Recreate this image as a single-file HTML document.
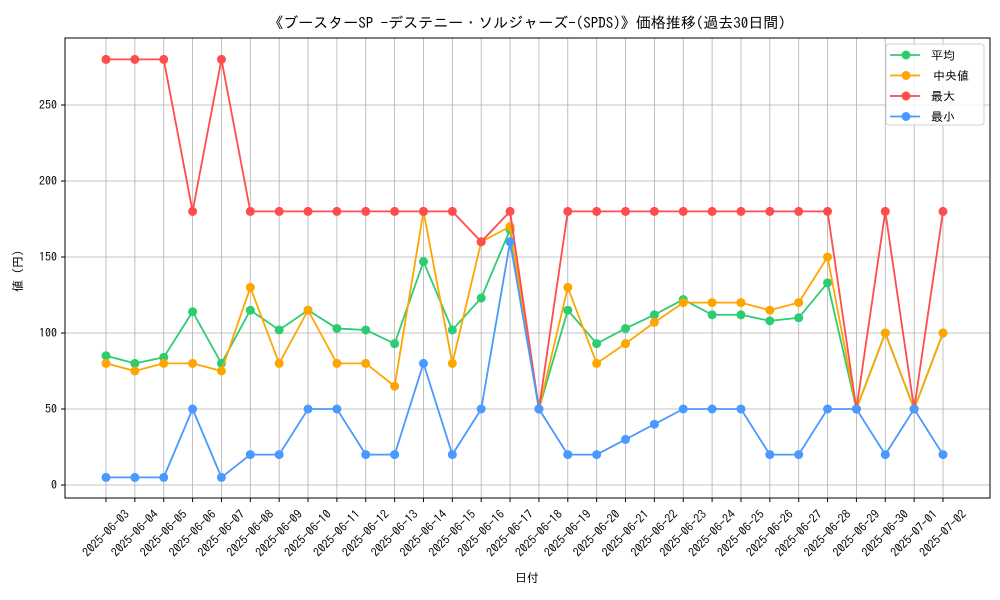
<!DOCTYPE html>
<html><head><meta charset="utf-8"><style>
html,body{margin:0;padding:0;background:#fff;}
svg{display:block;font-family:"IPAGothic","Noto Sans CJK JP",sans-serif;}
</style></head><body>
<svg id="chart" width="1000" height="600" viewBox="0 0 1000 600">
<text x="527" y="28" text-anchor="middle" font-size="15" fill="#000">《ブースターSP -デステニー・ソルジャーズ-(SPDS)》価格推移(過去30日間)</text>
<g id="grid"></g>
<g id="series"></g>
<rect x="65" y="38" width="925" height="460" fill="none" stroke="#000" stroke-width="1"/>
<g id="yticks"></g>
<g id="xticks"></g>
<text x="527" y="582" text-anchor="middle" font-size="12">日付</text>
<text x="0" y="0" transform="translate(22,268) rotate(-90)" text-anchor="middle" font-size="12">値（円）</text>
<g id="legend">
<rect x="886" y="44" width="98" height="81" rx="3" fill="#fff" fill-opacity="0.8" stroke="#d0d0d0"/>
</g>
</svg>
<script>
const dates=["2025-06-03","2025-06-04","2025-06-05","2025-06-06","2025-06-07","2025-06-08","2025-06-09","2025-06-10","2025-06-11","2025-06-12","2025-06-13","2025-06-14","2025-06-15","2025-06-16","2025-06-17","2025-06-18","2025-06-19","2025-06-20","2025-06-21","2025-06-22","2025-06-23","2025-06-24","2025-06-25","2025-06-26","2025-06-27","2025-06-28","2025-06-29","2025-06-30","2025-07-01","2025-07-02"];
const avgValues=[85,80,84,114,80,115,102,115,103,102,93,147,102,123,168,50,115,93,103,112,122,112,112,108,110,133,50,100,50,100];
const medianValues=[80,75,80,80,75,130,80,115,80,80,65,180,80,160,170,50,130,80,93,107,120,120,120,115,120,150,50,100,50,100];
const maxValues=[280,280,280,180,280,180,180,180,180,180,180,180,180,160,180,50,180,180,180,180,180,180,180,180,180,180,50,180,50,180];
const minValues=[5,5,5,50,5,20,20,50,50,20,20,80,20,50,160,50,20,20,30,40,50,50,50,20,20,50,50,20,50,20];
const yTicks=[0,50,100,150,200,250];
const seriesNames=["平均","中央値","最大","最小"];

const NS="http://www.w3.org/2000/svg";
function X(i){return 106+i*(943-106)/(dates.length-1);}
function Y(v){return 485-v*1.52;}
function mk(tag,attrs,parent){const e=document.createElementNS(NS,tag);for(const k in attrs)e.setAttribute(k,attrs[k]);parent.appendChild(e);return e;}
const grid=document.getElementById('grid'),yt=document.getElementById('yticks'),xt=document.getElementById('xticks'),sg=document.getElementById('series'),lg=document.getElementById('legend');
yTicks.forEach(v=>{
  const l=mk('line',{x1:65,x2:990,y1:Y(v),y2:Y(v),stroke:'#b0b0b0','stroke-width':0.8},grid);
  
  
  mk('line',{x1:61,x2:65,y1:Y(v),y2:Y(v),stroke:'#000'},yt);
  const t=mk('text',{x:57,y:Y(v)+4,'text-anchor':'end','font-size':12},yt);
  t.textContent=v;
  
  
});
dates.forEach((d,i)=>{
  const l=mk('line',{x1:X(i),x2:X(i),y1:38,y2:498,stroke:'#b0b0b0','stroke-width':0.8},grid);
  
  
  mk('line',{x1:X(i),x2:X(i),y1:498,y2:502,stroke:'#000'},xt);
  const t=mk('text',{x:0,y:0,'text-anchor':'end','font-size':12,transform:`translate(${X(i)+24},${515}) rotate(-45)`},xt);
  t.textContent=d;
  
  
});
const all=[[avgValues,'#2ecc71','avg'],[medianValues,'#ffa500','median'],[maxValues,'#ff4c4c','max'],[minValues,'#4a99ff','min']];
all.forEach(([vals,c,n])=>{
  const g=mk('g',{},sg);
  
  
  mk('polyline',{points:vals.map((v,i)=>X(i)+','+Y(v)).join(' '),fill:'none',stroke:c,'stroke-width':1.8},g);
  vals.forEach((v,i)=>{
    const p=mk('circle',{cx:X(i),cy:Y(v),r:4.5,fill:c},g);
    
    
  });
});
all.forEach(([v,c,n],k)=>{
  const y=55+k*20.5;
  const g=mk('g',{},lg);
  
  
  mk('line',{x1:890,x2:920,y1:y,y2:y,stroke:c,'stroke-width':1.8},g);
  mk('circle',{cx:906,cy:y,r:4.5,fill:c},g);
  const t=mk('text',{x:(k==1?933:931),y:y+4.5,'font-size':12},g);
  t.textContent=seriesNames[k];
});
</script>
</body></html>
